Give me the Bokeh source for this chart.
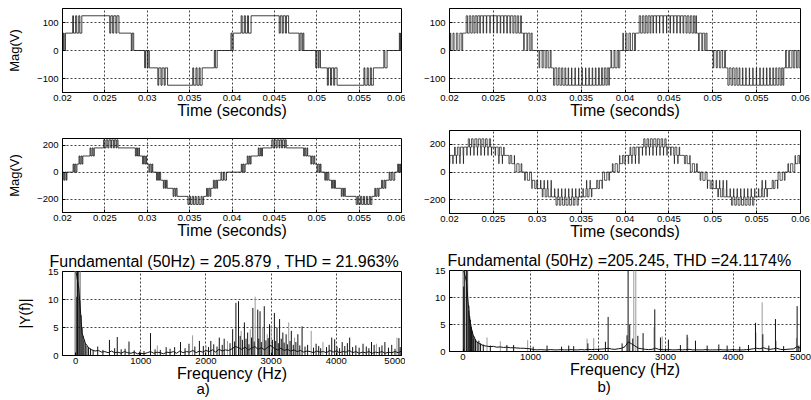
from bokeh.plotting import figure
from bokeh.layouts import column, row
from bokeh.models import Range1d, FixedTicker, Title, ColumnDataSource
from bokeh.embed import file_html
from bokeh.resources import INLINE

FONT = "Liberation Sans"
INK = "#111111"
GRAY = "#9a9a9a"

# ---------------- ticks / labels ----------------
TIME_TICKS = [0.02, 0.025, 0.03, 0.035, 0.04, 0.045, 0.05, 0.055, 0.06]
TIME_TICK_LABELS = ["0.02", "0.025", "0.03", "0.035", "0.04", "0.045", "0.05", "0.055", "0.06"]
FREQ_TICKS = [0, 1000, 2000, 3000, 4000, 5000]
FREQ_TICK_LABELS = ["0", "1000", "2000", "3000", "4000", "5000"]
TOP_Y_TICKS = [-100, 0, 100]
MID_Y_TICKS = [-200, 0, 200]
SPEC_Y_TICKS = [0, 5, 10, 15]

TITLE_A = "Fundamental (50Hz) = 205.879 , THD = 21.963%"
TITLE_B = "Fundamental (50Hz) =205.245, THD =24.1174%"

# ---------------- waveforms: (time ms, level V) steps ----------------
A1_STEPS = [
    (20.00, 0), (20.10, 62), (20.20, 0), (20.35, 62),
    (21.20, 124), (21.30, 62), (21.55, 124), (21.68, 62), (21.92, 124), (22.05, 62), (22.28, 124),
    (25.57, 62), (25.70, 124), (25.92, 62), (26.05, 124), (26.30, 62), (26.42, 124), (26.66, 62),
    (28.12, 0), (28.22, 62), (28.40, 0),
    (29.69, -62), (29.80, 0), (30.00, -62), (30.10, 0), (30.24, -62),
    (31.25, -124), (31.36, -62), (31.62, -124), (31.75, -62), (32.00, -124), (32.12, -62), (32.40, -124),
    (35.37, -62), (35.48, -124), (35.75, -62), (35.88, -124), (36.12, -62), (36.24, -124), (36.48, -62),
    (37.92, 0), (38.04, -62), (38.25, 0),
    (39.88, 62), (40.00, 0), (40.15, 62),
    (41.08, 124), (41.20, 62), (41.45, 124), (41.58, 62), (41.82, 124), (41.95, 62), (42.25, 124),
    (45.57, 62), (45.70, 124), (45.92, 62), (46.05, 124), (46.30, 62), (46.42, 124), (46.68, 62),
    (47.92, 0), (48.04, 62), (48.25, 0), (48.36, 62), (48.48, 0),
    (49.88, -62), (50.00, 0), (50.18, -62), (50.28, 0), (50.44, -62),
    (51.25, -124), (51.37, -62), (51.62, -124), (51.75, -62), (52.00, -124), (52.12, -62), (52.40, -124),
    (55.57, -62), (55.68, -124), (55.95, -62), (56.08, -124), (56.32, -62), (56.44, -124), (56.68, -62),
    (57.92, 0), (58.04, -62), (58.30, 0),
    (59.75, 62), (59.85, 0), (59.92, 62), (60.00, 62),
]

A2_STEPS = [
    (20.00, -60), (20.08, 0), (20.20, -60), (20.30, 0), (20.45, -60), (20.52, 0),
    (21.25, 60), (21.35, 0), (21.45, 60), (21.58, 0), (21.70, 60),
    (21.95, 120), (22.05, 60), (22.18, 120), (22.30, 60), (22.40, 120),
    (23.25, 180), (23.35, 120), (23.50, 180), (23.62, 120), (23.75, 180),
    (24.85, 240), (25.00, 180), (25.15, 240), (25.35, 180), (25.48, 240), (25.70, 180), (25.80, 240), (26.00, 180),
    (26.12, 240), (26.32, 180), (26.42, 240), (26.55, 180),
    (28.60, 120), (28.72, 180), (28.85, 120), (29.00, 180), (29.08, 120),
    (29.45, 60), (29.55, 120), (29.70, 60), (29.82, 120), (29.92, 60),
    (30.20, 0), (30.30, 60), (30.45, 0), (30.56, 60), (30.65, 0),
    (31.10, -60), (31.20, 0), (31.32, -60), (31.45, 0), (31.58, -60),
    (31.90, -120), (32.00, -60), (32.15, -120), (32.25, -60), (32.35, -120),
    (33.05, -180), (33.15, -120), (33.30, -180), (33.40, -120), (33.52, -180),
    (34.80, -240), (34.95, -180), (35.10, -240), (35.30, -180), (35.45, -240), (35.65, -180), (35.78, -240), (36.00, -180),
    (36.12, -240), (36.35, -180), (36.48, -240), (36.65, -180),
    (37.00, -120), (37.10, -180), (37.25, -120), (37.40, -180), (37.50, -120),
    (37.80, -60), (37.92, -120), (38.08, -60), (38.20, -120), (38.30, -60),
    (38.70, 0), (38.80, -60), (39.00, 0), (39.15, -60), (39.35, 0),
    (41.10, 60), (41.20, 0), (41.30, 60), (41.43, 0), (41.55, 60),
    (41.80, 120), (41.90, 60), (42.03, 120), (42.15, 60), (42.25, 120),
    (43.10, 180), (43.20, 120), (43.35, 180), (43.47, 120), (43.60, 180),
    (44.70, 240), (44.85, 180), (45.00, 240), (45.20, 180), (45.33, 240), (45.55, 180), (45.65, 240), (45.85, 180),
    (45.97, 240), (46.17, 180), (46.27, 240), (46.40, 180),
    (48.45, 120), (48.57, 180), (48.70, 120), (48.85, 180), (48.93, 120),
    (49.30, 60), (49.40, 120), (49.55, 60), (49.67, 120), (49.77, 60),
    (50.05, 0), (50.15, 60), (50.30, 0), (50.41, 60), (50.50, 0),
    (50.95, -60), (51.05, 0), (51.17, -60), (51.30, 0), (51.43, -60),
    (51.75, -120), (51.85, -60), (52.00, -120), (52.10, -60), (52.20, -120),
    (52.90, -180), (53.00, -120), (53.15, -180), (53.25, -120), (53.37, -180),
    (54.65, -240), (54.80, -180), (54.95, -240), (55.15, -180), (55.30, -240), (55.50, -180), (55.63, -240), (55.85, -180),
    (55.97, -240), (56.20, -180), (56.33, -240), (56.50, -180),
    (56.85, -120), (56.95, -180), (57.10, -120), (57.25, -180), (57.35, -120),
    (57.65, -60), (57.77, -120), (57.93, -60), (58.05, -120), (58.15, -60),
    (58.55, 0), (58.65, -60), (58.85, 0), (59.00, -60), (59.20, 0),
    (59.55, 60), (59.65, 0), (59.78, 60), (59.88, 0), (60.00, 0),
]

B1_STEPS = [
    (20.00, 0), (20.10, 62), (20.16, 0), (20.40, 62), (20.52, 0), (20.78, 62), (20.95, 0), (21.18, 62), (21.40, 0), (21.50, 62),
    (21.90, 124), (22.05, 62), (22.25, 124), (22.42, 62), (22.60, 124), (22.78, 62), (22.92, 124), (23.12, 62), (23.22, 124), (23.45, 62),
    (23.52, 124), (23.82, 62), (23.88, 124), (24.20, 62), (24.25, 124), (24.60, 62), (24.64, 124), (25.00, 62), (25.04, 124), (25.40, 62),
    (25.45, 124), (25.78, 62), (25.84, 124), (26.16, 62), (26.22, 124), (26.52, 62), (26.60, 124), (26.88, 62), (26.97, 124), (27.22, 62),
    (27.35, 124), (27.55, 62), (27.72, 124), (27.88, 62), (28.10, 124), (28.20, 62),
    (28.45, 0), (28.52, 62), (28.82, 0), (28.92, 62), (29.15, 0), (29.30, 62), (29.42, 0),
    (30.20, -62), (30.28, 0), (30.55, -62), (30.68, 0), (30.90, -62), (31.08, 0), (31.25, -62), (31.48, 0), (31.58, -62),
    (31.85, -124), (32.00, -62), (32.22, -124), (32.40, -62), (32.58, -124), (32.78, -62), (32.92, -124), (33.15, -62), (33.25, -124), (33.52, -62),
    (33.58, -124), (33.90, -62), (33.95, -124), (34.30, -62), (34.34, -124), (34.70, -62), (34.74, -124), (35.10, -62), (35.14, -124), (35.50, -62),
    (35.55, -124), (35.88, -62), (35.94, -124), (36.26, -62), (36.32, -124), (36.62, -62), (36.70, -124), (36.98, -62), (37.08, -124), (37.32, -62),
    (37.45, -124), (37.65, -62), (37.82, -124), (37.98, -62), (38.15, -124), (38.22, -62),
    (38.40, 0), (38.48, -62), (38.75, 0), (38.86, -62), (39.10, 0), (39.25, -62), (39.40, 0),
    (39.75, 62), (39.82, 0), (40.08, 62), (40.22, 0), (40.45, 62), (40.62, 0), (40.85, 62), (41.08, 0), (41.20, 62),
    (41.62, 124), (41.78, 62), (41.98, 124), (42.15, 62), (42.32, 124), (42.50, 62), (42.64, 124), (42.85, 62), (42.95, 124), (43.18, 62),
    (43.25, 124), (43.55, 62), (43.60, 124), (43.93, 62), (43.97, 124), (44.33, 62), (44.37, 124), (44.73, 62), (44.77, 124), (45.13, 62),
    (45.18, 124), (45.51, 62), (45.57, 124), (45.89, 62), (45.95, 124), (46.25, 62), (46.33, 124), (46.61, 62), (46.70, 124), (46.95, 62),
    (47.08, 124), (47.28, 62), (47.45, 124), (47.62, 62), (47.80, 124), (47.95, 62), (48.08, 124), (48.15, 62),
    (48.38, 0), (48.46, 62), (48.75, 0), (48.85, 62), (49.08, 0), (49.22, 62), (49.35, 0),
    (50.05, -62), (50.12, 0), (50.40, -62), (50.52, 0), (50.75, -62), (50.92, 0), (51.12, -62), (51.35, 0), (51.45, -62),
    (51.72, -124), (51.88, -62), (52.08, -124), (52.26, -62), (52.44, -124), (52.64, -62), (52.78, -124), (53.00, -62), (53.10, -124), (53.38, -62),
    (53.44, -124), (53.76, -62), (53.81, -124), (54.16, -62), (54.20, -124), (54.56, -62), (54.60, -124), (54.96, -62), (55.00, -124), (55.36, -62),
    (55.41, -124), (55.74, -62), (55.80, -124), (56.12, -62), (56.18, -124), (56.48, -62), (56.56, -124), (56.84, -62), (56.94, -124), (57.18, -62),
    (57.30, -124), (57.52, -62), (57.68, -124), (57.85, -62), (58.00, -124), (58.10, -62),
    (58.30, 0), (58.38, -62), (58.65, 0), (58.76, -62), (59.02, 0), (59.18, -62), (59.35, 0), (59.55, -62), (59.70, 0), (59.85, -62), (60.00, -62),
]

B2_STEPS = [
    (20.00, 60), (20.04, 120), (20.37, 60), (20.42, 120),
    (20.57, 180), (20.66, 120), (20.78, 60), (20.80, 120), (20.90, 180), (21.10, 120), (21.18, 60), (21.20, 120),
    (21.25, 180), (21.55, 120), (21.58, 60), (21.60, 120), (21.62, 180), (21.98, 120), (22.00, 180),
    (22.14, 240), (22.28, 180), (22.38, 120), (22.40, 180), (22.51, 240), (22.69, 180), (22.78, 120), (22.80, 180),
    (22.89, 240), (23.11, 180), (23.18, 120), (23.20, 180), (23.28, 240), (23.52, 180), (23.58, 120), (23.60, 180),
    (23.69, 240), (23.91, 180), (23.98, 120), (24.00, 180), (24.11, 240), (24.29, 180), (24.38, 120), (24.40, 180),
    (24.54, 240), (24.68, 180), (24.78, 120), (24.80, 180),
    (25.20, 120), (25.25, 180), (25.55, 120), (25.62, 60), (25.64, 120), (25.70, 180), (25.90, 120), (26.02, 60), (26.04, 120),
    (26.17, 180), (26.23, 120),
    (26.77, 60), (26.91, 120), (27.09, 60), (27.39, 120), (27.41, 60),
    (27.45, 0), (27.67, 60), (27.93, 0), (28.16, 60), (28.24, 0),
    (28.56, -60), (28.64, 0), (28.87, -60), (29.13, 0), (29.35, -60), (29.39, -120), (29.41, -60), (29.71, -120), (29.89, -60),
    (30.04, -120), (30.37, -60), (30.42, -120),
    (30.57, -180), (30.66, -120), (30.78, -60), (30.80, -120), (30.90, -180), (31.10, -120), (31.18, -60), (31.20, -120),
    (31.25, -180), (31.55, -120), (31.58, -60), (31.60, -120), (31.62, -180), (31.98, -120), (32.00, -180),
    (32.14, -240), (32.28, -180), (32.38, -120), (32.40, -180), (32.51, -240), (32.69, -180), (32.78, -120), (32.80, -180),
    (32.89, -240), (33.11, -180), (33.18, -120), (33.20, -180), (33.28, -240), (33.52, -180), (33.58, -120), (33.60, -180),
    (33.69, -240), (33.91, -180), (33.98, -120), (34.00, -180), (34.11, -240), (34.29, -180), (34.38, -120), (34.40, -180),
    (34.54, -240), (34.68, -180), (34.78, -120), (34.80, -180),
    (35.20, -120), (35.25, -180), (35.55, -120), (35.62, -60), (35.64, -120), (35.70, -180), (35.90, -120), (36.02, -60), (36.04, -120),
    (36.17, -180), (36.23, -120),
    (36.77, -60), (36.91, -120), (37.09, -60), (37.39, -120), (37.41, -60),
    (37.45, 0), (37.67, -60), (37.93, 0), (38.16, -60), (38.24, 0),
    (38.56, 60), (38.64, 0), (38.87, 60), (39.13, 0), (39.35, 60), (39.39, 120), (39.41, 60), (39.71, 120), (39.89, 60),
    (40.04, 120), (40.37, 60), (40.42, 120),
    (40.57, 180), (40.66, 120), (40.78, 60), (40.80, 120), (40.90, 180), (41.10, 120), (41.18, 60), (41.20, 120),
    (41.25, 180), (41.55, 120), (41.58, 60), (41.60, 120), (41.62, 180), (41.98, 120), (42.00, 180),
    (42.14, 240), (42.28, 180), (42.38, 120), (42.40, 180), (42.51, 240), (42.69, 180), (42.78, 120), (42.80, 180),
    (42.89, 240), (43.11, 180), (43.18, 120), (43.20, 180), (43.28, 240), (43.52, 180), (43.58, 120), (43.60, 180),
    (43.69, 240), (43.91, 180), (43.98, 120), (44.00, 180), (44.11, 240), (44.29, 180), (44.38, 120), (44.40, 180),
    (44.54, 240), (44.68, 180), (44.78, 120), (44.80, 180),
    (45.20, 120), (45.25, 180), (45.55, 120), (45.62, 60), (45.64, 120), (45.70, 180), (45.90, 120), (46.02, 60), (46.04, 120),
    (46.17, 180), (46.23, 120),
    (46.77, 60), (46.91, 120), (47.09, 60), (47.39, 120), (47.41, 60),
    (47.45, 0), (47.67, 60), (47.93, 0), (48.16, 60), (48.24, 0),
    (48.56, -60), (48.64, 0), (48.87, -60), (49.13, 0), (49.35, -60), (49.39, -120), (49.41, -60), (49.71, -120), (49.89, -60),
    (50.04, -120), (50.37, -60), (50.42, -120),
    (50.57, -180), (50.66, -120), (50.78, -60), (50.80, -120), (50.90, -180), (51.10, -120), (51.18, -60), (51.20, -120),
    (51.25, -180), (51.55, -120), (51.58, -60), (51.60, -120), (51.62, -180), (51.98, -120), (52.00, -180),
    (52.14, -240), (52.28, -180), (52.38, -120), (52.40, -180), (52.51, -240), (52.69, -180), (52.78, -120), (52.80, -180),
    (52.89, -240), (53.11, -180), (53.18, -120), (53.20, -180), (53.28, -240), (53.52, -180), (53.58, -120), (53.60, -180),
    (53.69, -240), (53.91, -180), (53.98, -120), (54.00, -180), (54.11, -240), (54.29, -180), (54.38, -120), (54.40, -180),
    (54.54, -240), (54.68, -180), (54.78, -120), (54.80, -180),
    (55.20, -120), (55.25, -180), (55.55, -120), (55.62, -60), (55.64, -120), (55.70, -180), (55.90, -120), (56.02, -60), (56.04, -120),
    (56.17, -180), (56.23, -120),
    (56.77, -60), (56.91, -120), (57.09, -60), (57.39, -120), (57.41, -60),
    (57.45, 0), (57.67, -60), (57.93, 0), (58.16, -60), (58.24, 0),
    (58.56, 60), (58.64, 0), (58.87, 60), (59.13, 0), (59.35, 60), (59.39, 120), (59.41, 60), (59.71, 120), (59.89, 60), (60.00, 60),
]

# ---------------- spectra ----------------
SPEC_BIN_HZ = 50  # spacing of the floor readings below
FLOOR_A = [15.5, 12.0, 4.0, 2.2, 1.4, 1.0, 0.8, 0.9, 0.6, 0.7,
           0.5, 0.8, 0.5, 0.6, 0.4, 0.7, 0.5, 0.4, 0.6, 0.3,
           0.4, 0.3, 0.5, 0.7, 0.4, 0.6, 0.5, 0.3, 0.6, 0.5,
           0.7, 0.4, 0.8, 0.5, 0.7, 0.6, 0.9, 0.5, 0.8, 0.6,
           0.9, 0.7, 1.0, 0.6, 1.1, 0.8, 1.0, 0.9, 1.2, 1.6,
           1.4, 1.1, 1.5, 1.0, 1.3, 1.6, 1.1, 1.4, 1.0, 1.5,
           1.8, 1.2, 1.0, 1.3, 0.9, 1.1, 0.8, 1.0, 0.7, 0.9,
           0.6, 0.8, 0.7, 0.5, 0.8, 0.6, 0.7, 0.5, 0.9, 0.6,
           0.8, 0.5, 0.7, 0.6, 0.9, 0.5, 0.7, 0.4, 0.6, 0.5,
           0.7, 0.4, 0.6, 0.5, 0.7, 0.4, 0.6, 0.5, 0.7, 0.5, 0.8]
FLOOR_B = [15.5, 13.0, 5.5, 3.0, 1.8, 1.4, 1.1, 1.0, 0.9, 0.95,
           0.8, 0.85, 0.75, 0.8, 0.7, 0.7, 0.65, 0.6, 0.6, 0.55,
           0.5, 0.35, 0.3, 0.35, 0.3, 0.3, 0.35, 0.3, 0.3, 0.35,
           0.3, 0.3, 0.35, 0.3, 0.3, 0.35, 0.3, 0.4, 0.35, 0.4,
           0.4, 0.45, 0.5, 0.6, 0.45, 0.4, 0.5, 0.6, 0.9, 1.8,
           1.4, 1.0, 0.6, 0.5, 0.4, 0.35, 0.4, 0.6, 0.4, 0.35,
           0.3, 0.35, 0.3, 0.3, 0.35, 0.3, 0.35, 0.4, 0.3, 0.3,
           0.3, 0.3, 0.35, 0.3, 0.3, 0.3, 0.35, 0.3, 0.3, 0.3,
           0.35, 0.3, 0.3, 0.3, 0.35, 0.4, 0.5, 0.6, 0.5, 0.7,
           0.5, 0.4, 0.5, 0.6, 0.4, 0.35, 0.4, 0.45, 0.5, 0.9, 0.6]

SPIKES_A_BLACK = [
    (20, 10.5), (30, 16), (50, 205.879), (65, 9.8), (85, 7.2), (100, 5.0), (115, 3.5), (130, 2.8), (150, 2.2),
    (175, 1.7), (200, 1.4), (230, 1.2), (270, 1.0), (340, 1.6), (420, 1.0), (520, 2.8), (600, 1.3), (640, 3.3),
    (700, 1.1), (760, 1.2), (820, 2.5), (900, 0.9), (980, 0.7), (1050, 0.8), (1150, 4.0), (1220, 1.1), (1300, 1.0),
    (1390, 1.5), (1450, 1.2), (1520, 1.5), (1610, 2.4), (1680, 1.3), (1740, 2.1), (1830, 1.6), (1900, 2.6),
    (1960, 1.7), (2040, 1.5), (2075, 2.6), (2120, 2.0), (2170, 1.6), (2205, 3.2), (2250, 1.9), (2280, 3.0),
    (2370, 2.2), (2410, 4.7), (2440, 2.5), (2460, 9.4), (2500, 9.7), (2525, 3.5), (2560, 2.8), (2590, 5.9),
    (2615, 3.0), (2640, 4.1), (2660, 2.0), (2700, 3.2), (2720, 8.5), (2740, 2.5), (2795, 8.2), (2810, 3.0),
    (2830, 7.9), (2850, 2.4), (2895, 8.8), (2920, 2.7), (2955, 3.1), (2975, 5.6), (3020, 2.8), (3050, 7.6),
    (3070, 2.6), (3090, 5.0), (3110, 2.2), (3130, 6.5), (3155, 3.0), (3180, 4.1), (3200, 2.3), (3230, 3.8),
    (3250, 2.0), (3290, 2.6), (3310, 4.4), (3340, 1.9), (3380, 2.4), (3410, 3.8), (3440, 1.8), (3475, 5.2),
    (3520, 1.6), (3560, 1.9), (3650, 1.4), (3690, 2.1), (3730, 1.7), (3760, 1.3), (3850, 1.5), (3890, 1.9),
    (3930, 3.2), (3975, 2.9), (4010, 1.6), (4050, 1.3), (4090, 2.4), (4130, 1.7), (4170, 2.2), (4205, 3.2),
    (4250, 1.5), (4300, 1.8), (4350, 1.4), (4410, 2.1), (4460, 1.6), (4500, 1.3), (4540, 2.4), (4580, 1.9),
    (4660, 1.5), (4700, 1.8), (4745, 2.4), (4800, 1.4), (4850, 1.9), (4900, 1.2), (4960, 3.1), (4980, 1.5),
]
SPIKES_A_GRAY = [
    (-10, 16), (0, 16), (10, 14), (75, 16), (1255, 1.8), (1795, 3.6), (2000, 1.8), (2330, 2.6), (2540, 4.4),
    (2680, 4.7), (2755, 10.5), (2870, 5.0), (2940, 3.8), (3000, 5.3), (3270, 5.9), (3360, 3.2), (3615, 4.4),
    (3795, 2.4), (4615, 2.1), (4930, 3.2),
]
SPIKES_B_BLACK = [
    (10, 12), (25, 16), (50, 205.245), (60, 16), (84, 7.6), (100, 6.5), (110, 5.9), (125, 4.5), (135, 3.8),
    (150, 3.0), (160, 2.4), (185, 2.2), (210, 1.8), (235, 2.0), (260, 1.5), (300, 1.3), (405, 1.1), (650, 1.2),
    (750, 1.2), (1040, 0.9), (1245, 1.1), (1460, 0.9), (1566, 1.1), (1640, 1.0), (1850, 1.5), (2110, 1.8),
    (2150, 6.4), (2357, 1.5), (2430, 3.0), (2446, 16), (2470, 5.0), (2515, 2.4), (2590, 2.9), (2668, 3.4),
    (2841, 7.8), (2925, 2.6), (3043, 2.2), (3221, 1.2), (3320, 3.1), (3444, 2.0), (3617, 1.1), (3790, 1.3),
    (3913, 1.1), (4100, 0.9), (4230, 1.2), (4333, 5.3), (4442, 3.2), (4531, 1.1), (4629, 6.0), (4750, 1.0),
    (4950, 8.4), (4975, 1.1),
]
SPIKES_B_GRAY = [
    (0, 16), (5, 16), (70, 16), (95, 8.5), (120, 5.0), (145, 3.4), (170, 2.8), (356, 2.6), (553, 1.9),
    (958, 2.1), (1838, 2.4), (1937, 2.5), (2530, 16), (2560, 16), (2830, 4.5), (2950, 2.8), (3330, 2.6),
    (4340, 3.5), (4432, 9.1), (4640, 2.0), (4940, 2.5),
]


def style(p, xticks, xlabels, yticks, xlabel, ylabel=None, ylabel_size="13px"):
    p.background_fill_color = "white"
    p.border_fill_color = "white"
    p.outline_line_color = "black"
    p.outline_line_width = 1
    p.outline_line_alpha = 1
    for ax in (p.xaxis[0], p.yaxis[0]):
        ax.axis_line_color = "black"
        ax.major_tick_in = 3
        ax.major_tick_out = 0
        ax.minor_tick_in = 0
        ax.minor_tick_out = 0
        ax.major_tick_line_color = "black"
        ax.major_label_text_font = FONT
        ax.major_label_text_font_size = "9.5px"
        ax.major_label_text_color = "black"
        ax.axis_label_text_font = FONT
        ax.axis_label_text_font_style = "normal"
        ax.axis_label_text_color = "black"
    p.xaxis[0].ticker = FixedTicker(ticks=xticks)
    p.xaxis[0].major_label_overrides = {t: l for t, l in zip(xticks, xlabels)}
    p.xaxis[0].major_label_standoff = 2
    p.xaxis[0].axis_label = xlabel
    p.xaxis[0].axis_label_text_font_size = "16px"
    p.xaxis[0].axis_label_standoff = -2
    p.yaxis[0].ticker = FixedTicker(ticks=yticks)
    p.yaxis[0].major_label_standoff = 4
    if ylabel:
        p.yaxis[0].axis_label = ylabel
        p.yaxis[0].axis_label_text_font_size = ylabel_size
        p.yaxis[0].axis_label_standoff = 12
    for g in (p.xgrid[0], p.ygrid[0]):
        g.grid_line_color = "#444444"
        g.grid_line_dash = "2 2"
        g.grid_line_width = 1


def make_fig(width, height, xr, yr, borders):
    return figure(width=width, height=height, x_range=Range1d(*xr), y_range=Range1d(*yr),
                  output_backend="svg", toolbar_location=None, title=None,
                  min_border_left=borders[0], min_border_right=borders[1],
                  min_border_top=borders[2], min_border_bottom=borders[3])


def wave_fig(steps, width, height, yr, borders, yticks, ylabel, lw):
    p = make_fig(width, height, (0.02, 0.06), yr, borders)
    src = ColumnDataSource(dict(t=[s[0] / 1000.0 for s in steps], v=[s[1] for s in steps]))
    p.step(x="t", y="v", source=src, mode="after", line_color=INK, line_width=lw)
    style(p, TIME_TICKS, TIME_TICK_LABELS, yticks, "Time (seconds)", ylabel)
    return p


def spec_fig(floor, black, gray, width, height, borders, title, title_offset, tag, tag_offset, tag_standoff, ylabel):
    p = make_fig(width, height, (-200, 5000), (0, 15), borders)
    g = ColumnDataSource(dict(f=[s[0] for s in gray], h=[s[1] for s in gray]))
    p.segment(x0="f", y0=0, x1="f", y1="h", source=g, line_color=GRAY, line_width=1)
    fl = ColumnDataSource(dict(f=[i * SPEC_BIN_HZ for i in range(len(floor))], v=floor))
    p.line(x="f", y="v", source=fl, line_color=INK, line_width=1)
    b = ColumnDataSource(dict(f=[s[0] for s in black], h=[s[1] for s in black]))
    p.segment(x0="f", y0=0, x1="f", y1="h", source=b, line_color=INK, line_width=1)
    style(p, FREQ_TICKS, FREQ_TICK_LABELS, SPEC_Y_TICKS, "Frequency (Hz)", ylabel, "14px")
    p.add_layout(Title(text=title, align="left", offset=title_offset, text_font=FONT, text_font_size="16px",
                       text_font_style="normal", text_color="black", standoff=4), "above")
    p.add_layout(Title(text=tag, align="left", offset=tag_offset, vertical_align="top",
                       text_font=FONT, text_font_size="15px",
                       text_font_style="normal", text_color="black", standoff=tag_standoff), "below")
    return p


f1 = wave_fig(A1_STEPS, 405, 126, (-150, 150), (61, 4, 8, 34), TOP_Y_TICKS, "Mag(V)", 0.8)
f2 = wave_fig(A2_STEPS, 405, 120, (-300, 250), (61, 4, 12, 34), MID_Y_TICKS, "Mag(V)", 0.8)
f3 = spec_fig(FLOOR_A, SPIKES_A_BLACK, SPIKES_A_GRAY, 405, 154, (62, 4, 25, 45),
              TITLE_A, -13, "a)", 134, -9, "|Y(f)|")

f4 = wave_fig(B1_STEPS, 406, 126, (-150, 150), (40, 11, 8, 34), TOP_Y_TICKS, None, 0.7)
f5 = wave_fig(B2_STEPS, 406, 121, (-300, 300), (40, 11, 4, 34), MID_Y_TICKS, None, 0.7)
f6 = spec_fig(FLOOR_B, SPIKES_B_BLACK, SPIKES_B_GRAY, 406, 153, (44, 11, 19, 49),
              TITLE_B, -2, "b)", 148, -6, None)

layout = row(column(f1, f2, f3), column(f4, f5, f6))

with open("out.html", "w") as fh:
    fh.write(file_html(layout, INLINE))
